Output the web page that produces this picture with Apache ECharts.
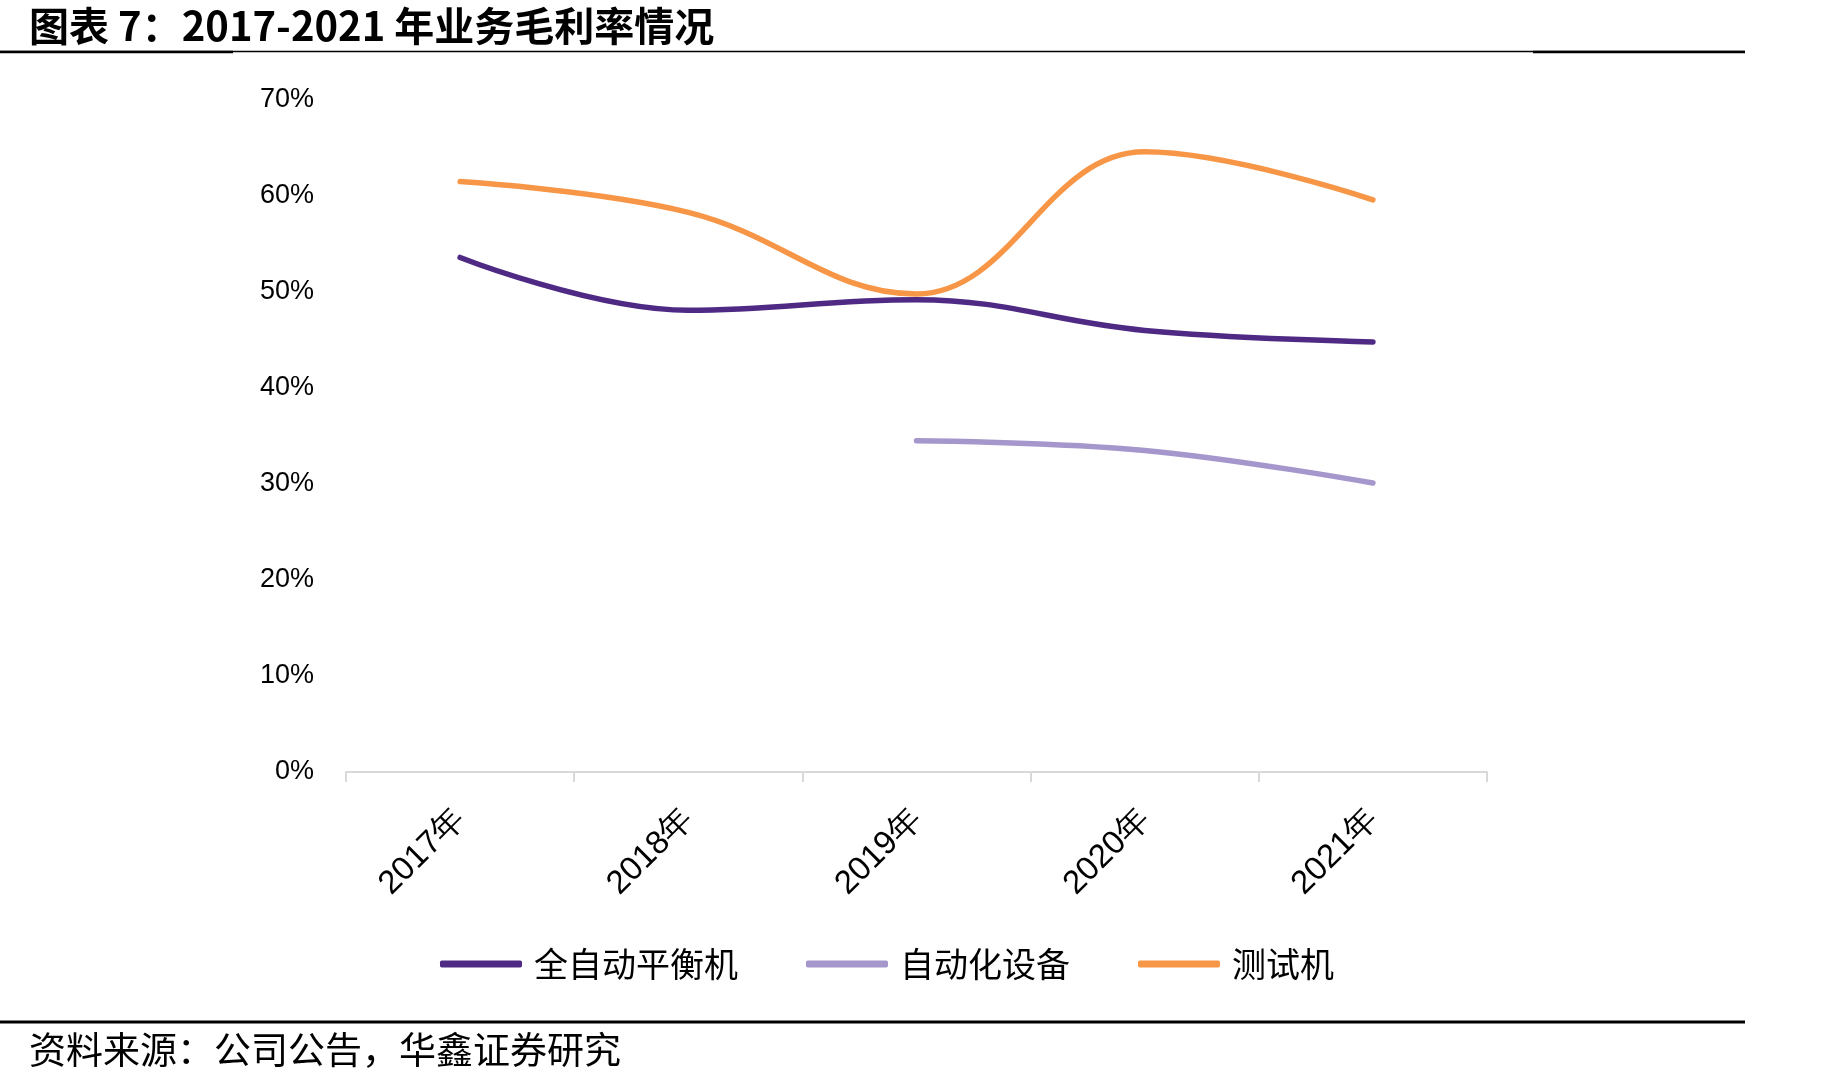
<!DOCTYPE html>
<html>
<head>
<meta charset="utf-8">
<script src="https://cdn.jsdelivr.net/npm/echarts@6/dist/echarts.min.js"></script>
<style>
  html, body { margin: 0; padding: 0; background: #fff; }
  #chart { width: 1840px; height: 1082px; }
</style>
</head>
<body>
<div id="chart"></div>
<script>
// 年份
const years = ['2017年', '2018年', '2019年', '2020年', '2021年'];
// 毛利率 (%)
const balancer = [53.6, 48.1, 49.2, 46.0, 44.8];
const automation = [null, null, 34.5, 33.5, 30.1];
const tester = [61.5, 58.3, 49.8, 64.6, 59.6];
const yTicks = [0, 10, 20, 30, 40, 50, 60, 70];

const seriesNames = ['全自动平衡机', '自动化设备', '测试机'];
const colors = ['#4e2a84', '#a597cc', '#f79646'];

const chart = echarts.init(document.getElementById('chart'));

const lineSeries = (name, data, color) => {
  return {
    name,
    type: 'line',
    data,
    smooth: 0.4,
    symbol: 'none',
    connectNulls: false,
    lineStyle: {
      color,
      width: 5.5,
      cap: 'round'
    },
    itemStyle: { color }
  };
};

const option = {
  animation: false,
  backgroundColor: '#fff',
  color: colors,
  title: [
    {
      text: '图表 7：2017-2021 年业务毛利率情况',
      left: 24,
      top: 1,
      textStyle: {
        fontFamily: 'Noto Sans CJK SC',
        fontWeight: 'bold',
        fontSize: 40,
        color: '#000'
      }
    },
    {
      text: '资料来源：公司公告，华鑫证券研究',
      left: 24,
      top: 1026,
      textStyle: {
        fontFamily: 'Noto Sans CJK SC',
        fontWeight: 'normal',
        fontSize: 37,
        color: '#000'
      }
    }
  ],
  graphic: [
    // 标题下横线
    {
      type: 'line',
      shape: { x1: 0, y1: 51.5, x2: 1745, y2: 51.5 },
      style: { stroke: '#000', lineWidth: 1.5 }
    },
    {
      type: 'line',
      shape: { x1: 0, y1: 52, x2: 233, y2: 52 },
      style: { stroke: '#000', lineWidth: 2.5 }
    },
    {
      type: 'line',
      shape: { x1: 1533, y1: 52, x2: 1745, y2: 52 },
      style: { stroke: '#000', lineWidth: 2.5 }
    },
    // 来源上横线
    {
      type: 'line',
      shape: { x1: 0, y1: 1022, x2: 1745, y2: 1022 },
      style: { stroke: '#000', lineWidth: 3 }
    }
  ],
  legend: {
    data: seriesNames,
    bottom: 96,
    left: 435,
    itemWidth: 82,
    itemHeight: 7,
    itemGap: 68,
    icon: 'roundRect',
    textStyle: {
      fontFamily: 'Noto Sans CJK SC',
      fontSize: 34,
      color: '#000',
      padding: [0, 0, 0, 7]
    }
  },
  grid: {
    left: 346,
    right: 353,
    top: 100,
    bottom: 310
  },
  xAxis: {
    type: 'category',
    data: years,
    boundaryGap: true,
    axisLine: {
      lineStyle: { color: '#d9d9d9', width: 2 }
    },
    axisTick: {
      show: true,
      length: 10,
      lineStyle: { color: '#d9d9d9', width: 2 }
    },
    axisLabel: {
      rotate: 45,
      margin: 42,
      color: '#000',
      fontFamily: 'Liberation Sans',
      fontSize: 33
    }
  },
  yAxis: {
    type: 'value',
    min: yTicks[0],
    max: yTicks[yTicks.length - 1],
    interval: 10,
    axisLine: { show: false },
    axisTick: { show: false },
    splitLine: { show: false },
    axisLabel: {
      margin: 32,
      color: '#000',
      fontFamily: 'Liberation Sans',
      fontSize: 27,
      formatter: '{value}%'
    }
  },
  series: [
    lineSeries(seriesNames[0], balancer, colors[0]),
    lineSeries(seriesNames[1], automation, colors[1]),
    lineSeries(seriesNames[2], tester, colors[2])
  ]
};

chart.setOption(option);
</script>
</body>
</html>
